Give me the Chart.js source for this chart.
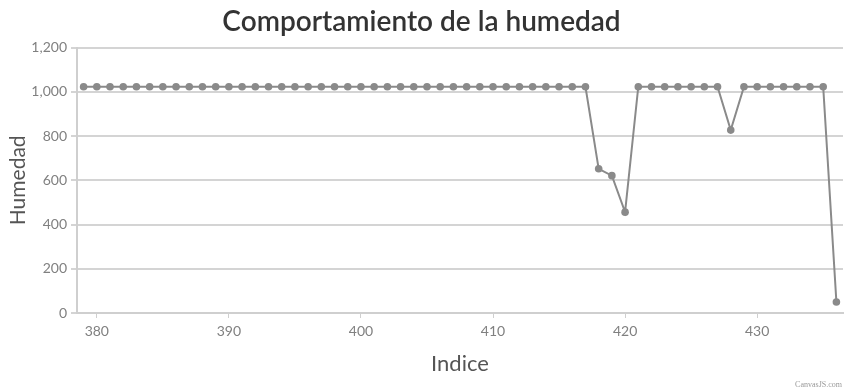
<!DOCTYPE html>
<html>
<head>
<meta charset="utf-8">
<script src="https://cdn.jsdelivr.net/npm/chart.js@4.4.1/dist/chart.umd.min.js"></script>
<style>
  html, body { margin: 0; padding: 0; background: #fff; }
  #wrap { width: 847px; height: 390px; position: relative; }
</style>
</head>
<body>
<div id="wrap"><canvas id="humChart"></canvas></div>
<script>
// data
var indices = [379, 380, 381, 382, 383, 384, 385, 386, 387, 388, 389, 390, 391, 392, 393, 394, 395, 396, 397, 398,
               399, 400, 401, 402, 403, 404, 405, 406, 407, 408, 409, 410, 411, 412, 413, 414, 415, 416, 417, 418,
               419, 420, 421, 422, 423, 424, 425, 426, 427, 428, 429, 430, 431, 432, 433, 434, 435, 436];
var humedad = [1023, 1023, 1023, 1023, 1023, 1023, 1023, 1023, 1023, 1023, 1023, 1023, 1023, 1023, 1023, 1023, 1023, 1023, 1023, 1023,
               1023, 1023, 1023, 1023, 1023, 1023, 1023, 1023, 1023, 1023, 1023, 1023, 1023, 1023, 1023, 1023, 1023, 1023, 1023, 652,
               621, 456, 1023, 1023, 1023, 1023, 1023, 1023, 1023, 827, 1023, 1023, 1023, 1023, 1023, 1023, 1023, 50];
var xTicks = [380, 390, 400, 410, 420, 430];
var yTicks = [0, 200, 400, 600, 800, 1000, 1200];

var points = indices.map(function (x, i) { return { x: x, y: humedad[i] }; });

var creditPlugin = {
  id: 'credit',
  afterDraw: function (chart) {
    var ctx = chart.ctx;
    ctx.save();
    ctx.font = '8px "Liberation Serif"';
    ctx.fillStyle = '#999';
    ctx.textAlign = 'right';
    ctx.textBaseline = 'middle';
    ctx.fillText('CanvasJS.com', 842, 385);
    ctx.restore();
  }
};

new Chart(document.getElementById('humChart'), {
  type: 'line',
  data: {
    datasets: [{
      data: points,
      borderColor: '#8a8a8a',
      backgroundColor: '#8a8a8a',
      borderWidth: 2,
      pointRadius: 3.8,
      pointBackgroundColor: '#8a8a8a',
      pointBorderWidth: 0,
      tension: 0
    }]
  },
  options: {
    responsive: true,
    maintainAspectRatio: false,
    animation: false,
    locale: 'en-US',
    layout: { padding: { left: 0, right: 4, top: 0, bottom: 0 } },
    plugins: {
      legend: { display: false },
      tooltip: { enabled: false },
      title: {
        display: true,
        text: 'Comportamiento de la humedad',
        color: '#333',
        font: { family: 'Lato', size: 28, weight: '600' },
        padding: { top: 5, bottom: 9 }
      }
    },
    scales: {
      x: {
        type: 'linear',
        min: 378.5,
        max: 436.5,
        afterBuildTicks: function (s) { s.ticks = xTicks.map(function (v) { return { value: v }; }); },
        afterFit: function (s) { s.height = 77; },
        grid: { drawOnChartArea: false, drawTicks: true, tickLength: 5, color: '#cfcfcf', lineWidth: 1 },
        border: { display: true, color: '#cfcfcf', width: 2 },
        ticks: { color: '#808080', font: { family: 'Lato', size: 14 }, padding: 5, maxRotation: 0 },
        title: { display: true, text: 'Indice', color: '#555', font: { family: 'Lato', size: 22 }, padding: { top: 0, bottom: 13 } }
      },
      y: {
        min: 0,
        max: 1200,
        afterBuildTicks: function (s) { s.ticks = yTicks.map(function (v) { return { value: v }; }); },
        afterFit: function (s) { s.width = 77; },
        grid: { color: '#d4d4d4', lineWidth: 2, tickLength: 6 },
        border: { display: true, color: '#cfcfcf', width: 2 },
        ticks: { color: '#808080', font: { family: 'Lato', size: 14 }, padding: 4 },
        title: { display: true, text: 'Humedad', color: '#555', font: { family: 'Lato', size: 21 }, padding: { top: 6, bottom: 0 } }
      }
    }
  },
  plugins: [creditPlugin]
});
</script>
</body>
</html>
